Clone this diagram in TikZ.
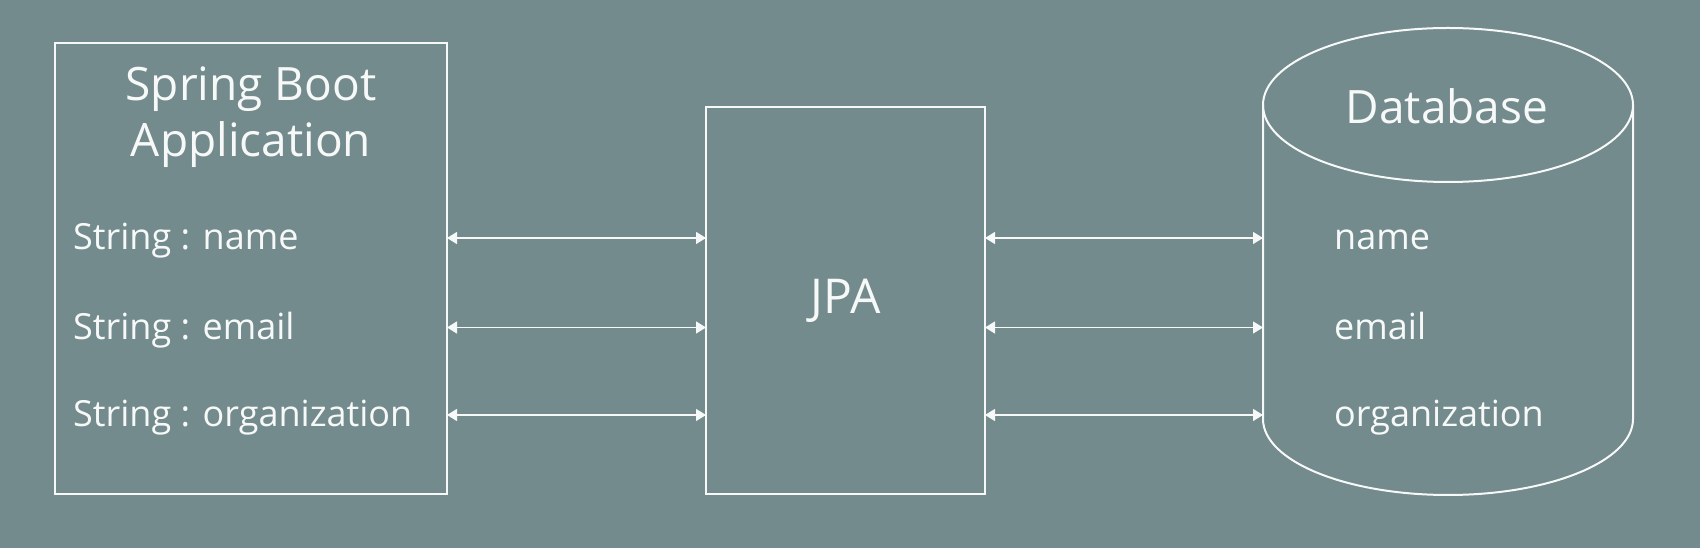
\documentclass[tikz,border=0pt]{standalone}
\usepackage{fontspec}
\setmainfont{Open Sans}
\usetikzlibrary{arrows.meta}
\definecolor{slide}{RGB}{115,139,141}
\definecolor{chalk}{RGB}{247,249,249}
\begin{document}
\begin{tikzpicture}[x=1pt,y=1pt]
\tikzstyle{line}=[draw=chalk, line width=2pt]
\tikzstyle{box}=[line, rectangle, inner sep=0pt, outer sep=0pt, text=chalk]
\tikzstyle{field}=[anchor=west, text=chalk, inner sep=0pt, text height=24pt, text depth=0pt, font=\fontsize{36}{40}\selectfont]
\tikzstyle{arrow}=[{Triangle[length=10pt,width=12pt]}-{Triangle[length=10pt,width=12pt]}, draw=chalk, fill=chalk, line width=1.5pt]
\fill[slide] (0,0) rectangle (1700,548);
\node[box, minimum width=392pt, minimum height=451pt] (app) at (251,279.5) {};
\node[box, minimum width=279pt, minimum height=387pt, font=\fontsize{48}{52}\selectfont] (jpa) at (845.5,247.5) {JPA};
\node[text=chalk, align=center, font=\fontsize{46}{56}\selectfont] (apptitle) at (251,431) {Spring Boot\\Application};
\node[field] (appname) at (73,310) {String : name};
\node[field] (appemail) at (73,220.5) {String : email};
\node[field] (apporg) at (73,133) {String : organization};
\node[text=chalk, font=\fontsize{46}{50}\selectfont] (dbtitle) at (1447,442) {Database};
\node[field] (dbname) at (1334,310) {name};
\node[field] (dbemail) at (1334,220.5) {email};
\node[field] (dborg) at (1334,133) {organization};
\coordinate (dbleft) at (1263,443);
\coordinate (dbright) at (1633,443);

% cylinder
\draw[line] (1448,443) ellipse [x radius=185, y radius=77];
\draw[line] (dbleft) -- (1263,129) arc[start angle=180, end angle=360, x radius=185, y radius=76] -- (dbright);

\draw[arrow] (app.east |- appname) -- (jpa.west |- appname);
\draw[arrow] (app.east |- appemail) -- (jpa.west |- appemail);
\draw[arrow] (app.east |- apporg) -- (jpa.west |- apporg);
\draw[arrow] (jpa.east |- dbname) -- (dbleft |- dbname);
\draw[arrow] (jpa.east |- dbemail) -- (dbleft |- dbemail);
\draw[arrow] (jpa.east |- dborg) -- (dbleft |- dborg);
\end{tikzpicture}
\end{document}
